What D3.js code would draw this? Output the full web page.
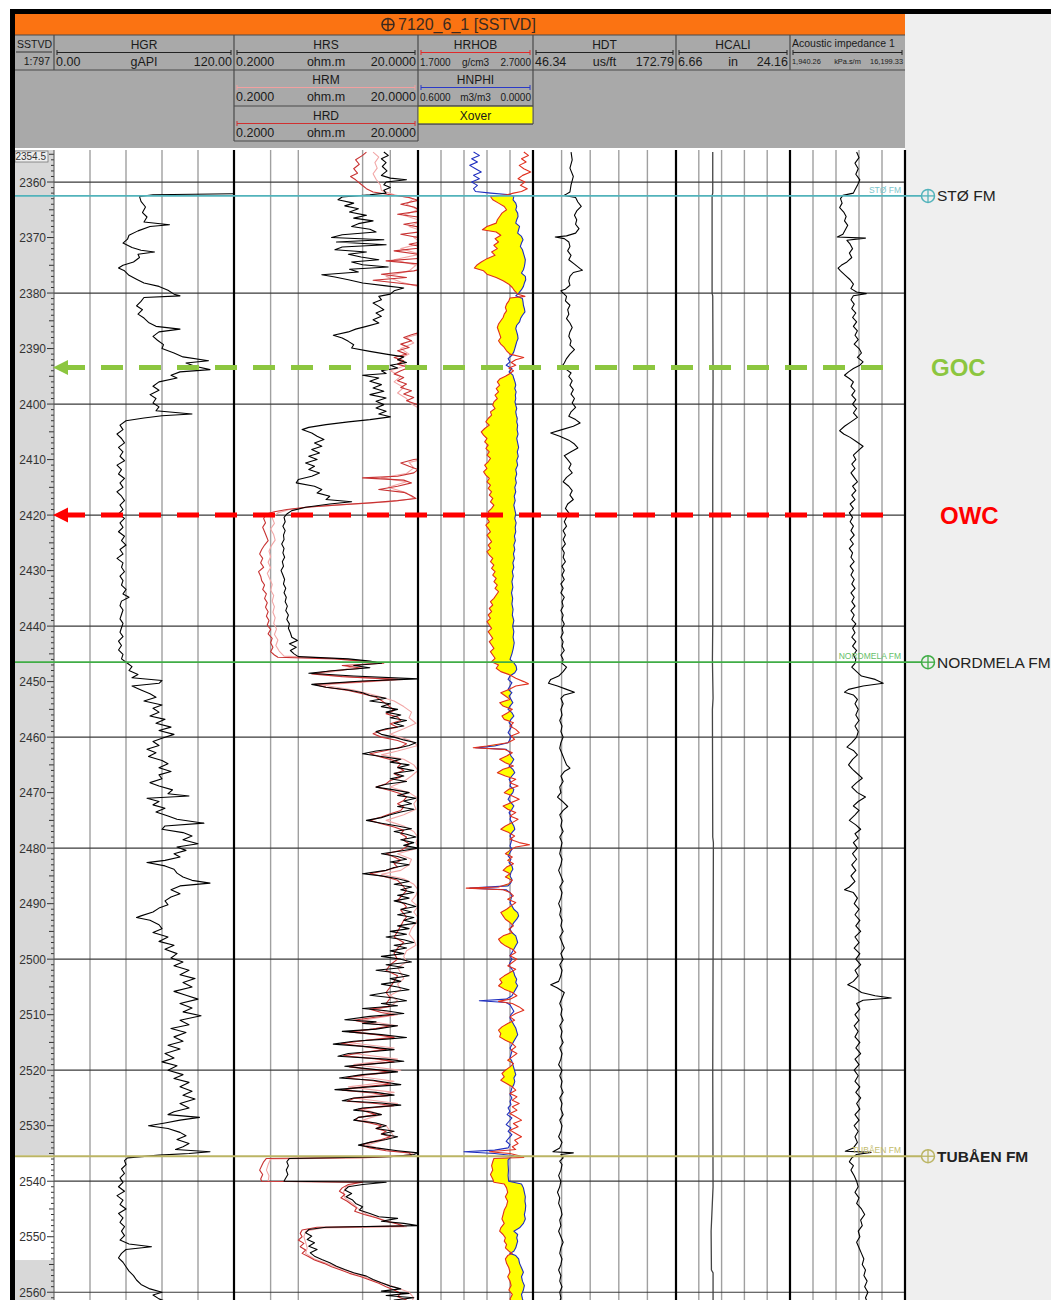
<!DOCTYPE html>
<html><head><meta charset="utf-8">
<script src="https://cdn.jsdelivr.net/npm/d3@7"></script>
<style>
body{margin:0;background:#fff}
svg{display:block}
text{font-family:"Liberation Sans",Arial,Helvetica,sans-serif}
</style>
</head><body>
<svg id="chart" width="1051" height="1300"></svg>
<script>
// ---------- Well 7120_6_1 log data: [depth SSTVD (m), value] ----------
const wellName = "7120_6_1 [SSTVD]";
const depthTop = 2354.5, depthBase = 2561.4;

const HGR = [[2362.1,120],[2362.3,66],[2362.6,57],[2363.5,58],[2364.5,61],[2365.5,59],[2366.3,62],[2367.2,60],[2367.7,77],[2368.0,64],[2368.8,56],[2369.6,50],[2370.3,49],[2371.0,46],[2371.8,52],[2372.3,58],[2372.6,67],[2373.0,56],[2373.6,57],[2374.4,53],[2375.0,46],[2375.5,43],[2376.0,47],[2376.8,50],[2377.5,55],[2378.2,60],[2378.8,70],[2379.5,76],[2380.2,80],[2380.5,84],[2380.8,60],[2381.5,58],[2382.3,55],[2383.0,59],[2383.8,56],[2384.5,60],[2385.3,63],[2386.0,68],[2386.5,84],[2387.0,70],[2387.8,66],[2388.5,69],[2389.3,73],[2390.0,72],[2390.8,80],[2391.5,86],[2392.2,103],[2392.6,88],[2393.2,94],[2393.8,104],[2394.2,84],[2394.8,78],[2395.3,82],[2396.0,70],[2396.8,66],[2397.5,70],[2398.3,64],[2399.0,68],[2399.8,66],[2400.5,70],[2401.2,68],[2401.8,92],[2402.1,72],[2402.5,60],[2403.0,48],
[2403.8,44],[2404.6,46],[2405.4,42],[2406.2,45],[2407.0,47],[2407.8,43],[2408.6,46],[2409.4,44],[2410.2,47],[2411.0,42],[2411.8,45],[2412.6,43],[2413.4,47],[2414.2,44],[2415.0,46],[2415.8,42],[2416.6,45],[2417.4,47],[2418.2,44],[2419.0,46],[2419.8,43],[2420.6,47],[2421.4,44],[2422.2,46],[2423.0,43],[2423.8,47],[2424.6,45],[2425.4,48],[2426.2,44],[2427.0,46],[2427.8,42],[2428.6,46],[2429.4,45],[2430.2,47],[2431.0,44],[2431.8,46],[2432.6,45],[2433.4,48],[2434.2,46],[2434.8,50],[2435.5,45],[2436.3,44],[2437.1,46],[2437.9,45],[2438.7,44],[2439.5,46],[2440.3,45],[2441.1,44],[2441.9,46],[2442.7,43],[2443.5,45],[2444.3,43],[2445.1,46],[2445.9,45],
[2446.7,49],[2447.3,52],[2448.0,50],[2448.7,56],[2449.3,52],[2449.8,72],[2450.3,70],[2450.8,52],[2451.5,58],[2452.2,64],[2452.8,68],[2453.5,60],[2454.2,72],[2454.8,66],[2455.5,70],[2456.2,64],[2456.8,74],[2457.5,68],[2458.2,78],[2458.8,70],[2459.5,80],[2460.2,72],[2460.8,66],[2461.5,70],[2462.2,62],[2462.8,68],[2463.5,63],[2464.2,72],[2464.8,76],[2465.5,70],[2466.2,78],[2466.8,70],[2467.5,72],[2468.2,64],[2468.8,70],[2469.5,79],[2470.2,76],[2470.6,90],[2471.0,62],[2471.6,70],[2472.2,66],[2472.8,74],[2473.5,68],[2474.2,76],[2474.8,82],[2475.5,100],[2476.0,74],[2476.6,72],[2477.2,86],[2477.8,92],[2478.5,86],[2479.2,96],[2479.8,82],[2480.4,88],[2481.0,80],[2481.6,84],[2482.2,74],[2482.6,62],[2483.2,74],[2483.8,80],[2484.5,82],[2485.2,86],[2485.8,92],[2486.3,104],[2486.8,84],[2487.5,78],[2488.2,84],[2488.8,78],[2489.5,74],[2490.2,76],[2490.8,70],[2491.5,66],[2492.2,58],[2492.5,55],[2493.0,64],[2493.8,70],
[2494.5,72],[2495.2,66],[2496.0,76],[2496.8,70],[2497.5,80],[2498.2,74],[2499.0,82],[2499.8,78],[2500.5,86],[2501.2,80],[2502.0,90],[2502.8,84],[2503.5,94],[2504.2,86],[2505.0,92],[2505.8,80],[2506.5,88],[2507.2,96],[2508.0,84],[2508.8,92],[2509.5,86],[2510.2,98],[2511.0,84],[2511.8,90],[2512.5,78],[2513.2,88],[2514.0,80],[2514.8,86],[2515.5,76],[2516.2,84],[2517.0,74],[2517.8,80],[2518.5,72],[2519.2,82],[2520.0,76],[2520.8,86],[2521.5,80],[2522.2,90],[2523.0,84],[2523.8,92],[2524.5,86],[2525.2,94],[2526.0,84],[2526.8,90],[2527.5,80],[2528.0,76],[2528.5,97],[2529.0,84],[2529.5,74],[2530.0,63],[2530.5,76],[2531.2,84],[2531.8,88],[2532.5,82],[2533.2,90],[2533.8,86],[2534.3,81],[2534.7,104],[2535.0,90],[2535.3,70],[2535.8,49],
[2536.3,47],[2537.0,48],[2537.8,45],[2538.6,47],[2539.4,44],[2540.2,46],[2541.0,43],[2541.8,47],[2542.6,42],[2543.4,46],[2544.2,44],[2545.0,48],[2545.8,43],[2546.6,46],[2547.4,44],[2548.2,47],[2549.0,45],[2549.8,47],[2550.6,44],[2551.3,50],[2551.8,65],[2552.3,48],[2553.0,45],[2553.8,43],[2554.6,46],[2555.4,48],[2556.2,50],[2557.0,53],[2557.8,55],[2558.6,58],[2559.4,64],[2560.0,72],[2560.5,66],[2561.2,70],[2561.6,74]];

const HRS = [[2354.6,8.5],[2355.2,9.5],[2355.8,8.0],[2356.5,9.0],[2357.2,8.2],[2358.0,9.2],[2358.8,8.0],[2359.3,10],[2359.6,15],[2360.0,9],[2360.5,8.5],[2361.0,10],[2361.5,8.5],[2362.0,9],[2362.3,6],[2362.7,3.0],[2363.2,2.7],[2363.8,4.0],[2364.3,3.2],[2364.8,4.5],[2365.4,3.6],[2366.0,5.5],[2366.5,4.0],[2367.0,6.5],[2367.5,4.5],[2368.0,3.8],[2368.5,6.0],[2369.0,7.0],[2369.5,3.0],[2370.0,2.3],[2370.4,8.5],[2370.8,2.6],[2371.3,9],[2371.7,3.0],[2372.2,2.5],[2372.6,5.5],[2373.0,3.5],[2373.5,4.8],[2374.0,7.5],[2374.4,3.8],[2374.9,5],[2375.3,9.5],[2375.7,3.6],[2376.2,4.5],[2376.7,1.8],[2377.1,2.5],[2377.6,3.5],[2378.2,5],[2378.7,9],[2379.1,14],[2379.6,11],[2380.2,10],[2380.6,7.5],[2381.2,8],[2381.8,6.5],[2382.4,7.5],[2383.0,8.5],[2383.6,7],[2384.2,8],[2384.8,6.5],[2385.4,7.5],[2386.0,5.5],[2386.5,4.2],[2387.0,3.5],[2387.6,2.4],[2388.1,3.0],[2388.7,3.5],[2389.3,4],[2389.9,3.8],[2390.5,6],[2391.0,9],[2391.5,14],[2392.0,12],[2392.5,15],[2393.0,10],[2393.5,12],[2394.0,8],[2394.5,9],[2394.8,5],[2395.3,7.5],[2395.9,6],[2396.5,8],[2397.1,6.5],[2397.7,8.5],[2398.3,6],[2398.9,9],[2399.5,7],[2400.1,8.5],[2400.7,7],[2401.3,9],[2401.8,7.5],[2402.3,10],[2402.8,6],[2403.2,3.5],[2403.7,2.0],[2404.2,1.3],[2404.6,1.1],[2405.2,1.4],[2405.8,1.6],[2406.4,1.9],[2407.0,1.5],[2407.6,1.8],[2408.2,1.4],[2408.8,1.7],[2409.4,1.3],[2410.0,1.6],[2410.6,1.2],[2411.2,1.5],[2411.8,1.3],[2412.4,1.7],[2413.0,1.4],[2413.6,1.0],[2414.2,0.95],[2414.8,1.5],[2415.4,1.8],[2416.0,1.6],[2416.6,2.2],[2417.2,2.0],[2417.6,3.8],[2418.0,2.2],[2418.6,1.2],[2419.2,0.85],[2419.8,0.75],[2420.4,0.7],[2421.2,0.72],[2422.0,0.68],[2422.8,0.72],[2423.6,0.69],[2424.4,0.7],[2425.2,0.66],[2426.0,0.7],[2426.8,0.68],[2427.6,0.71],[2428.4,0.67],[2429.2,0.69],[2430.0,0.65],[2430.8,0.68],[2431.6,0.71],[2432.4,0.69],[2433.2,0.73],[2434.0,0.7],[2434.8,0.74],[2435.6,0.72],[2436.4,0.76],[2437.2,0.73],[2438.0,0.78],[2438.8,0.75],[2439.6,0.8],[2440.4,0.78],[2441.2,0.82],[2442.0,0.85],[2442.6,0.98],[2443.2,0.8],[2443.8,0.95],[2444.4,0.82],[2445.0,0.9],[2445.5,1.0],[2445.9,3.5],[2446.3,6],[2446.7,8],[2447.1,4],[2447.5,6],[2448.0,2.5],[2448.5,1.3],[2449.0,4],[2449.5,20],[2449.9,5],[2450.5,1.4],[2451.0,2],[2451.5,3.5],[2452.0,5],[2452.5,6],[2453.0,9],[2453.5,6],[2454.0,10],[2454.5,8],[2455.0,12],[2455.5,9],[2456.0,13],[2456.5,10],[2457.0,15],[2457.5,11],[2458.0,14],[2458.5,9],[2459.0,7],[2459.5,8],[2460.0,11],[2460.5,14],[2461.0,19],[2461.5,16],[2462.0,12],[2462.5,7],[2463.0,5],[2463.5,8],[2464.0,13],[2464.5,10],[2465.0,16],[2465.5,12],[2466.0,18],[2466.5,11],[2467.0,14],[2467.5,10],[2468.0,15],[2468.5,9],[2469.0,7],[2469.5,11],[2470.0,16],[2470.5,12],[2471.0,19],[2471.5,14],[2472.0,17],[2472.5,12],[2473.0,18],[2473.5,13],[2474.0,10],[2474.5,8],[2475.0,5.5],[2475.5,8],[2476.0,12],[2476.5,17],[2477.0,11],[2477.5,15],[2478.0,19],[2478.5,13],[2479.0,18],[2479.5,14],[2480.0,20],[2480.5,13],[2481.0,8],[2481.5,12],[2482.0,15],[2482.5,10],[2483.0,16],[2483.5,11],[2484.0,9],[2484.6,5],[2485.0,8],[2485.5,12],[2486.0,16],[2486.5,11],[2487.0,17],[2487.5,13],[2488.0,18],[2488.5,12],[2489.0,16],[2489.5,11],[2490.0,15],[2490.5,19],[2491.0,13],[2491.5,17],[2492.0,12],[2492.5,18],[2493.0,14],[2493.5,19],[2494.0,12],[2494.5,16],[2495.0,10],[2495.5,15],[2496.0,9],[2496.5,14],[2497.0,18],[2497.5,11],[2498.0,15],[2498.5,10],[2499.0,14],[2499.5,8],[2500.0,13],[2500.5,17],[2501.0,9],[2501.5,14],[2502.0,7],[2502.5,12],[2503.0,16],[2503.5,10],[2504.0,13],[2504.5,8],[2505.0,12],[2505.5,16],[2506.0,9],[2506.5,6],[2507.0,11],[2507.5,15],[2508.0,8],[2508.4,12],[2508.9,5],[2509.3,9],[2509.8,14],[2510.3,6],[2510.9,3.2],[2511.3,7],[2511.6,5],[2512.0,12],[2512.6,7],[2513.0,3],[2513.6,8],[2514.1,15],[2514.4,9],[2514.8,4],[2515.3,2.4],[2515.8,6],[2516.3,11],[2516.6,7],[2517.0,3.5],[2517.5,2.7],[2518.0,9],[2518.4,14],[2518.9,6],[2519.3,3.2],[2519.9,7],[2520.3,12],[2520.8,5],[2521.4,2.8],[2521.8,6.5],[2522.3,10],[2522.6,13],[2523.1,5],[2523.5,2.5],[2524.0,7],[2524.5,11],[2525.0,4],[2525.5,3],[2525.9,8],[2526.3,13],[2526.8,5],[2527.2,4],[2527.5,6],[2528.0,8],[2528.5,4.5],[2529.0,4],[2529.5,7],[2530.0,9],[2530.5,7],[2531.0,11],[2531.5,8],[2532.0,12],[2532.5,9],[2533.0,6],[2533.5,4.5],[2534.0,7],[2534.5,12],[2534.9,20],[2535.2,18],[2535.6,10],[2535.9,0.8],[2536.5,0.75],[2537.2,0.78],[2538.0,0.74],[2538.8,0.77],[2539.6,0.72],[2540.0,0.7],[2540.2,9],[2540.6,5],[2541.0,3.5],[2541.6,3.2],[2542.2,3.8],[2542.8,3.3],[2543.4,3.9],[2544.0,4.2],[2544.6,5],[2545.2,4.6],[2545.8,6],[2546.4,7.5],[2546.7,12],[2547.2,8],[2547.6,14],[2548.0,20],[2548.3,2.0],[2548.7,1.3],[2549.3,1.2],[2549.9,1.4],[2550.5,1.25],[2551.1,1.5],[2551.7,1.3],[2552.3,1.6],[2552.9,1.35],[2553.5,1.5],[2554.1,1.8],[2554.7,2.2],[2555.3,2.6],[2555.9,3.2],[2556.5,4],[2557.1,5.5],[2557.7,6.5],[2558.3,8],[2558.9,10],[2559.4,13],[2559.8,8],[2560.2,16],[2560.6,9],[2561.0,18],[2561.4,11],[2561.7,15]];

const HRM = [[2354.6,6.5],[2355.5,7.5],[2356.5,6.8],[2357.5,7.2],[2358.5,6.5],[2359.5,7],[2360.5,7.8],[2361.5,8],[2362.3,11],[2363.0,18],[2364.0,15],[2365.0,20],[2366.0,14],[2367.0,22],[2368.0,16],[2369.0,24],[2370.0,18],[2371.0,22],[2372.0,13],[2373.0,21],[2374.0,11],[2375.0,19],[2376.0,16],[2377.0,9],[2378.0,13],[2379.0,22],[2380.0,30],[2387.0,25],[2388.0,15],[2389.0,18],[2390.0,13],[2391.0,16],[2392.0,12],[2393.0,15],[2394.0,10],[2395.0,13],[2396.0,11],[2397.0,14],[2398.0,12],[2399.0,15],[2400.0,17],[2401.0,22],[2410.0,22],[2410.5,16],[2411.5,18],[2412.5,15],[2413.3,8],[2414.0,15],[2415.0,9.5],[2416.0,15],[2417.0,18],[2417.6,10],[2418.0,4],[2418.5,1.5],[2419.0,0.8],[2419.6,0.6],[2420.5,0.52],[2421.5,0.55],[2422.5,0.5],[2423.5,0.54],[2424.5,0.56],[2425.5,0.51],[2426.5,0.48],[2427.5,0.5],[2428.5,0.47],[2429.5,0.5],[2430.5,0.46],[2431.5,0.49],[2432.5,0.52],[2433.5,0.5],[2434.5,0.54],[2435.5,0.52],[2436.5,0.55],[2437.5,0.53],[2438.5,0.56],[2439.5,0.54],[2440.5,0.58],[2441.5,0.55],[2442.5,0.6],[2443.5,0.57],[2444.5,0.62],[2445.4,0.7],[2445.9,3],[2446.5,7],[2447.2,4],[2448.0,3],[2448.6,1.6],[2449.2,4],[2449.6,14],[2450.1,5],[2450.6,1.8],[2451.5,4],[2452.5,7],[2453.5,11],[2454.5,14],[2455.5,17],[2456.5,16],[2457.5,19],[2458.5,14],[2459.5,10],[2460.5,16],[2461.5,20],[2462.5,12],[2463.2,8],[2464.0,14],[2465.0,18],[2466.0,20],[2467.0,17],[2468.0,14],[2469.0,10],[2470.0,16],[2471.0,20],[2472.0,18],[2473.0,19],[2474.0,14],[2475.0,9],[2476.0,14],[2477.0,18],[2478.0,20],[2479.0,19],[2480.0,20],[2481.0,12],[2482.0,17],[2483.0,16],[2484.0,13],[2484.7,8],[2485.5,14],[2486.5,18],[2487.5,20],[2488.5,19],[2489.5,17],[2490.5,20],[2491.5,18],[2492.5,20],[2493.5,19],[2494.5,17],[2495.5,16],[2496.5,18],[2497.5,19],[2498.5,15],[2499.5,14],[2500.5,15],[2501.5,12],[2502.5,13],[2503.5,14],[2504.5,12],[2505.5,13],[2506.5,10],[2507.5,12],[2508.5,10],[2509.0,7],[2510.0,12],[2511.0,5],[2512.0,12],[2513.0,4],[2514.0,11],[2515.0,3.5],[2516.0,11],[2517.0,4],[2518.0,12],[2519.0,4],[2520.0,13],[2521.0,4],[2522.0,11],[2523.0,3.5],[2524.0,11],[2525.0,4],[2526.0,12],[2527.0,5],[2528.0,8],[2529.0,5],[2530.0,9],[2531.0,10],[2532.0,11],[2533.0,7],[2533.5,5.5],[2534.5,10],[2534.9,18],[2535.4,16],[2535.8,5],[2536.0,0.5],[2537.0,0.47],[2538.0,0.45],[2539.0,0.48],[2540.0,0.47],[2540.2,4.5],[2541.0,3.3],[2542.0,3.1],[2543.0,3.2],[2544.0,3.9],[2545.0,4.5],[2546.0,5.6],[2547.0,8.5],[2547.8,13],[2548.2,15],[2548.4,1.8],[2549.0,1.2],[2550.0,1.15],[2551.0,1.2],[2552.0,1.25],[2553.0,1.2],[2554.0,1.5],[2555.0,2.2],[2556.0,3.2],[2557.0,4.8],[2558.0,7],[2559.0,11],[2560.0,16],[2561.0,18],[2561.7,17]];

const HRD = [[2354.6,5.5],[2355.2,5],[2356.0,4.2],[2356.8,4.6],[2357.6,4.0],[2358.4,4.4],[2359.0,3.7],[2359.6,4.2],[2360.4,4.8],[2361.2,5.5],[2361.8,6.5],[2362.3,10],[2362.8,16],[2363.3,20],[2364.0,13],[2364.5,18],[2365.2,22],[2365.8,12],[2366.3,20],[2367.0,24],[2367.6,14],[2368.2,22],[2368.8,26],[2369.4,13],[2370.0,20],[2370.6,25],[2371.2,16],[2371.8,24],[2372.4,11],[2373.0,20],[2373.6,28],[2374.2,9],[2374.8,22],[2375.4,26],[2376.0,18],[2376.6,8],[2377.2,15],[2377.7,6.5],[2378.2,12],[2378.8,25],[2379.5,30],[2380.3,40],[2386.0,30],[2387.0,22],[2387.5,17],[2388.0,14],[2388.6,17],[2389.2,13],[2389.8,16],[2390.4,12],[2391.0,15],[2391.6,11],[2392.2,14],[2392.8,12],[2393.4,16],[2394.0,13],[2394.6,11],[2395.2,14],[2395.8,12],[2396.4,15],[2397.0,13],[2397.6,17],[2398.2,14],[2398.8,18],[2399.4,15],[2400.0,19],[2400.6,22],[2401.5,30],[2409.5,30],[2410.0,18],[2410.6,13],[2411.2,16],[2411.8,20],[2412.4,18],[2413.0,12],[2413.3,5],[2413.7,14],[2414.2,17],[2414.8,12],[2415.4,7.5],[2415.9,14],[2416.5,17],[2417.0,19],[2417.4,12],[2417.8,6],[2418.2,2.5],[2418.6,1.2],[2419.0,0.75],[2419.4,0.55],[2419.8,0.45],[2420.6,0.42],[2421.4,0.44],[2422.2,0.41],[2423.0,0.43],[2423.8,0.45],[2424.6,0.47],[2425.4,0.43],[2426.2,0.4],[2427.0,0.38],[2427.8,0.41],[2428.6,0.39],[2429.4,0.42],[2430.2,0.37],[2431.0,0.39],[2431.8,0.4],[2432.6,0.43],[2433.4,0.41],[2434.2,0.45],[2435.0,0.43],[2435.8,0.46],[2436.6,0.44],[2437.4,0.47],[2438.2,0.45],[2439.0,0.48],[2439.8,0.46],[2440.6,0.5],[2441.4,0.47],[2442.2,0.52],[2443.0,0.5],[2443.8,0.53],[2444.6,0.5],[2445.2,0.55],[2445.6,0.6],[2445.9,2.5],[2446.3,5],[2446.7,8.5],[2447.1,3],[2447.6,5],[2448.1,2.2],[2448.6,1.4],[2449.1,3],[2449.6,12],[2450.0,5],[2450.5,1.5],[2451.0,2],[2451.6,3.5],[2452.2,5],[2452.8,7],[2453.4,8],[2454.0,9],[2454.6,10],[2455.2,11],[2455.8,9],[2456.4,12],[2457.0,13],[2457.6,10],[2458.2,12],[2458.8,8],[2459.4,6.5],[2460.0,8],[2460.6,12],[2461.2,15],[2461.8,13],[2462.4,9],[2463.0,6],[2463.6,8],[2464.2,11],[2464.8,13],[2465.4,12],[2466.0,14],[2466.6,11],[2467.2,13],[2467.8,10],[2468.4,9],[2469.0,7],[2469.6,10],[2470.2,13],[2470.8,15],[2471.4,14],[2472.0,12],[2472.6,14],[2473.2,13],[2473.8,10],[2474.4,8],[2475.0,6],[2475.6,8],[2476.2,11],[2476.8,14],[2477.4,13],[2478.0,15],[2478.6,14],[2479.2,16],[2479.8,15],[2480.4,13],[2481.0,9],[2481.6,11],[2482.2,13],[2482.8,11],[2483.4,12],[2484.0,9],[2484.6,6],[2485.2,9],[2485.8,12],[2486.4,13],[2487.0,14],[2487.6,15],[2488.2,14],[2488.8,13],[2489.4,12],[2490.0,14],[2490.6,15],[2491.2,13],[2491.8,14],[2492.4,15],[2493.0,14],[2494.0,13],[2495.0,12],[2496.0,11],[2497.0,14],[2498.0,12],[2499.0,11],[2500.0,12],[2501.0,10],[2502.0,9],[2503.0,12],[2504.0,11],[2505.0,10],[2506.0,9],[2507.0,10],[2508.0,9],[2508.5,10],[2509.0,6],[2509.6,8],[2510.0,11],[2510.5,6.5],[2511.0,4],[2511.6,6],[2512.0,10],[2512.6,6.5],[2513.1,3.6],[2513.6,7],[2514.1,11],[2514.6,5.5],[2515.2,2.9],[2515.8,5.5],[2516.3,9],[2516.8,5],[2517.4,3.1],[2518.0,7.5],[2518.5,11],[2519.0,5],[2519.4,3.6],[2520.0,7],[2520.4,10],[2520.9,5],[2521.4,3.3],[2521.9,6.5],[2522.5,10],[2523.1,4.5],[2523.6,3],[2524.1,6.5],[2524.6,9.5],[2525.1,4],[2525.6,3.4],[2526.0,7],[2526.4,11],[2527.0,4.5],[2527.5,5.5],[2528.0,7],[2528.5,4.5],[2529.0,4.2],[2529.5,6],[2530.0,8],[2530.5,7],[2531.0,9],[2531.5,8],[2532.0,10],[2532.5,8],[2533.0,6],[2533.5,4.8],[2534.0,6],[2534.5,9],[2534.9,16],[2535.3,17],[2535.7,6],[2535.9,0.45],[2536.5,0.42],[2537.2,0.4],[2538.0,0.38],[2538.8,0.41],[2539.6,0.39],[2540.0,0.4],[2540.2,5],[2540.6,3.5],[2541.2,3],[2541.8,2.8],[2542.4,3.2],[2543.0,2.9],[2543.6,3.4],[2544.2,3.8],[2544.8,4.3],[2545.4,4.1],[2546.0,5.2],[2546.6,7],[2547.2,9],[2547.7,12],[2548.1,14],[2548.3,1.6],[2548.8,1.1],[2549.4,1.05],[2550.0,1.1],[2550.6,1.0],[2551.2,1.15],[2551.8,1.05],[2552.4,1.2],[2553.0,1.1],[2553.6,1.3],[2554.2,1.5],[2554.8,1.9],[2555.4,2.3],[2556.0,2.9],[2556.6,3.6],[2557.2,4.8],[2557.8,6],[2558.4,7.5],[2559.0,9],[2559.6,11],[2560.2,13],[2560.8,12],[2561.4,15],[2561.7,14]];

const HRHOB = [[2354.6,2.62],[2355.2,2.66],[2355.8,2.60],[2356.4,2.64],[2357.0,2.58],[2357.6,2.62],[2358.2,2.68],[2358.8,2.61],[2359.4,2.57],[2360.0,2.63],[2360.6,2.59],[2361.2,2.65],[2361.7,2.60],[2362.0,2.53],[2362.3,2.47],[2362.6,2.33],[2363.2,2.35],[2363.8,2.40],[2364.4,2.45],[2365.0,2.47],[2365.6,2.43],[2366.2,2.41],[2366.8,2.39],[2367.4,2.38],[2368.0,2.30],[2368.6,2.26],[2369.0,2.38],[2369.6,2.42],[2370.2,2.37],[2370.8,2.40],[2371.4,2.36],[2372.0,2.39],[2372.6,2.34],[2373.2,2.37],[2373.8,2.30],[2374.4,2.25],[2375.0,2.21],[2375.5,2.19],[2376.0,2.27],[2376.6,2.30],[2377.2,2.38],[2377.8,2.44],[2378.4,2.49],[2379.0,2.52],[2379.6,2.54],[2380.2,2.57],[2380.6,2.63],[2380.9,2.50],[2381.4,2.49],[2382.0,2.47],[2382.6,2.46],[2383.2,2.47],[2383.8,2.45],[2384.4,2.44],[2385.0,2.42],[2385.6,2.40],[2386.2,2.39],[2386.8,2.40],[2387.4,2.41],[2388.0,2.42],[2388.6,2.40],[2389.2,2.42],[2389.8,2.45],[2390.4,2.47],[2391.0,2.50],[2391.6,2.62],[2392.0,2.55],[2392.5,2.51],[2393.0,2.55],[2393.5,2.49],[2394.0,2.53],[2394.5,2.50],[2395.0,2.46],[2395.5,2.41],[2396.0,2.39],[2396.6,2.41],[2397.2,2.38],[2397.8,2.40],[2398.4,2.37],[2399.0,2.39],[2399.6,2.36],[2400.2,2.35],[2400.8,2.37],[2401.4,2.33],[2402.0,2.34],[2402.6,2.31],[2403.2,2.29],[2403.8,2.32],[2404.4,2.28],[2405.0,2.25],[2405.6,2.27],[2406.2,2.30],[2406.8,2.28],[2407.4,2.31],[2408.0,2.29],[2408.6,2.32],[2409.2,2.30],[2409.8,2.33],[2410.4,2.31],[2411.0,2.28],[2411.6,2.30],[2412.2,2.27],[2412.8,2.29],[2413.4,2.32],[2414.0,2.30],[2414.6,2.33],[2415.2,2.31],[2415.8,2.34],[2416.4,2.32],[2417.0,2.35],[2417.6,2.33],[2418.2,2.36],[2418.8,2.34],[2419.4,2.31],[2420.0,2.33],[2420.6,2.30],[2421.2,2.32],[2421.8,2.29],[2422.4,2.31],[2423.0,2.33],[2423.6,2.30],[2424.2,2.32],[2424.8,2.34],[2425.4,2.31],[2426.0,2.33],[2426.6,2.30],[2427.2,2.32],[2427.8,2.35],[2428.4,2.33],[2429.0,2.36],[2429.6,2.34],[2430.2,2.37],[2430.8,2.35],[2431.4,2.38],[2432.0,2.36],[2432.6,2.39],[2433.2,2.37],[2433.8,2.40],[2434.4,2.38],[2435.0,2.36],[2435.6,2.33],[2436.2,2.35],[2436.8,2.32],[2437.4,2.34],[2438.0,2.31],[2438.6,2.33],[2439.2,2.30],[2439.8,2.32],[2440.4,2.34],[2441.0,2.31],[2441.6,2.33],[2442.2,2.35],[2442.8,2.32],[2443.4,2.34],[2444.0,2.36],[2444.6,2.33],[2445.2,2.35],[2445.8,2.37],[2446.4,2.34],[2447.0,2.40],[2447.6,2.38],[2448.2,2.42],[2448.8,2.50],[2449.4,2.55],[2450.0,2.62],[2450.4,2.66],[2450.8,2.55],[2451.4,2.49],[2452.0,2.42],[2452.6,2.46],[2453.2,2.50],[2453.8,2.41],[2454.4,2.44],[2455.0,2.52],[2455.6,2.48],[2456.2,2.43],[2456.8,2.45],[2457.4,2.53],[2458.0,2.50],[2458.6,2.55],[2459.2,2.58],[2459.8,2.51],[2460.4,2.54],[2461.0,2.48],[2461.6,2.30],[2461.9,2.18],[2462.2,2.45],[2462.8,2.52],[2463.4,2.47],[2464.0,2.41],[2464.6,2.46],[2465.2,2.53],[2465.8,2.44],[2466.4,2.39],[2467.0,2.46],[2467.6,2.55],[2468.2,2.50],[2468.8,2.57],[2469.4,2.49],[2470.0,2.45],[2470.6,2.52],[2471.2,2.58],[2471.8,2.51],[2472.4,2.44],[2473.0,2.48],[2473.6,2.55],[2474.2,2.50],[2474.8,2.57],[2475.4,2.52],[2476.0,2.46],[2476.6,2.42],[2477.2,2.49],[2477.8,2.54],[2478.4,2.50],[2479.0,2.58],[2479.4,2.67],[2479.8,2.55],[2480.4,2.50],[2481.0,2.46],[2481.6,2.52],[2482.2,2.48],[2482.8,2.53],[2483.4,2.47],[2484.0,2.44],[2484.6,2.50],[2485.2,2.46],[2485.8,2.52],[2486.4,2.49],[2487.0,2.40],[2487.2,2.12],[2487.5,2.44],[2488.0,2.50],[2488.6,2.53],[2489.2,2.48],[2489.8,2.55],[2490.4,2.51],[2491.0,2.47],[2491.6,2.42],[2492.2,2.44],[2492.8,2.46],[2493.4,2.50],[2494.0,2.53],[2494.6,2.49],[2495.2,2.52],[2495.8,2.44],[2496.4,2.40],[2497.0,2.42],[2497.6,2.46],[2498.2,2.52],[2498.8,2.55],[2499.4,2.50],[2500.0,2.56],[2500.6,2.52],[2501.2,2.48],[2501.8,2.55],[2502.4,2.50],[2503.0,2.45],[2503.6,2.41],[2504.2,2.43],[2504.8,2.40],[2505.4,2.45],[2506.0,2.52],[2506.6,2.56],[2507.2,2.50],[2507.6,2.40],[2508.0,2.52],[2508.6,2.58],[2509.2,2.62],[2509.8,2.55],[2510.4,2.50],[2511.0,2.54],[2511.6,2.48],[2512.2,2.43],[2512.8,2.40],[2513.4,2.42],[2514.0,2.41],[2514.6,2.46],[2515.2,2.52],[2515.8,2.55],[2516.4,2.51],[2517.0,2.56],[2517.6,2.52],[2518.2,2.48],[2518.8,2.53],[2519.4,2.50],[2520.0,2.46],[2520.6,2.43],[2521.2,2.45],[2521.8,2.42],[2522.4,2.47],[2523.0,2.52],[2523.6,2.55],[2524.2,2.50],[2524.8,2.56],[2525.4,2.52],[2526.0,2.58],[2526.6,2.52],[2527.2,2.56],[2527.8,2.50],[2528.4,2.55],[2529.0,2.60],[2529.6,2.53],[2530.2,2.57],[2530.8,2.50],[2531.4,2.55],[2532.0,2.60],[2532.6,2.54],[2533.2,2.57],[2533.8,2.52],[2534.3,2.55],[2534.7,2.32],[2535.0,2.50],[2535.4,2.58],[2535.7,2.62],[2535.9,2.36],[2536.5,2.35],[2537.2,2.34],[2538.0,2.35],[2538.8,2.33],[2539.6,2.35],[2540.2,2.36],[2540.5,2.45],[2541.2,2.47],[2542.0,2.48],[2542.8,2.46],[2543.6,2.48],[2544.4,2.47],[2545.2,2.45],[2546.0,2.44],[2546.8,2.43],[2547.6,2.45],[2548.4,2.42],[2549.0,2.41],[2549.6,2.44],[2550.2,2.46],[2550.8,2.45],[2551.4,2.47],[2552.0,2.46],[2552.6,2.49],[2553.0,2.52],[2553.4,2.48],[2554.0,2.46],[2554.8,2.47],[2555.6,2.49],[2556.4,2.50],[2557.2,2.48],[2558.0,2.50],[2558.8,2.51],[2559.6,2.49],[2560.4,2.52],[2561.2,2.50],[2561.7,2.51]];

const HNPHI = [[2354.6,0.31],[2355.2,0.28],[2355.8,0.32],[2356.4,0.29],[2357.0,0.33],[2357.6,0.30],[2358.2,0.27],[2358.8,0.31],[2359.4,0.28],[2360.0,0.32],[2360.6,0.29],[2361.2,0.31],[2361.7,0.30],[2362.0,0.22],[2362.3,0.12],[2362.6,0.10],[2363.2,0.104],[2363.8,0.09],[2364.4,0.085],[2365.0,0.09],[2365.6,0.08],[2366.2,0.078],[2366.8,0.085],[2367.4,0.09],[2368.0,0.07],[2368.6,0.075],[2369.2,0.08],[2369.8,0.06],[2370.4,0.052],[2371.0,0.06],[2371.6,0.066],[2372.2,0.055],[2372.8,0.05],[2373.4,0.045],[2374.0,0.04],[2374.6,0.042],[2375.2,0.045],[2375.8,0.05],[2376.4,0.06],[2377.0,0.04],[2377.6,0.038],[2378.2,0.045],[2378.8,0.05],[2379.4,0.06],[2380.0,0.075],[2380.5,0.09],[2381.0,0.055],[2381.6,0.052],[2382.2,0.05],[2382.8,0.045],[2383.4,0.042],[2384.0,0.055],[2384.6,0.065],[2385.2,0.07],[2385.8,0.085],[2386.4,0.09],[2387.0,0.085],[2387.6,0.08],[2388.2,0.078],[2388.8,0.085],[2389.4,0.09],[2390.0,0.095],[2390.6,0.1],[2391.2,0.11],[2391.8,0.13],[2392.4,0.12],[2393.0,0.14],[2393.6,0.11],[2394.2,0.125],[2394.8,0.105],[2395.4,0.1],[2396.0,0.094],[2396.6,0.09],[2397.2,0.095],[2397.8,0.088],[2398.4,0.092],[2399.0,0.09],[2399.6,0.094],[2400.2,0.09],[2400.8,0.085],[2401.4,0.09],[2402.0,0.087],[2402.6,0.082],[2403.2,0.085],[2403.8,0.08],[2404.6,0.083],[2405.4,0.078],[2406.2,0.085],[2407.0,0.08],[2407.8,0.075],[2408.6,0.082],[2409.4,0.077],[2410.2,0.085],[2411.0,0.08],[2411.8,0.09],[2412.6,0.085],[2413.4,0.092],[2414.2,0.087],[2415.0,0.095],[2415.8,0.09],[2416.6,0.098],[2417.4,0.093],[2418.2,0.1],[2419.0,0.095],[2419.8,0.09],[2420.6,0.095],[2421.4,0.088],[2422.2,0.093],[2423.0,0.09],[2423.8,0.097],[2424.6,0.092],[2425.4,0.1],[2426.2,0.095],[2427.0,0.102],[2427.8,0.097],[2428.6,0.105],[2429.4,0.1],[2430.2,0.108],[2431.0,0.103],[2432.0,0.11],[2433.0,0.105],[2434.0,0.112],[2435.0,0.106],[2436.0,0.11],[2437.0,0.104],[2438.0,0.108],[2439.0,0.1],[2440.0,0.106],[2441.0,0.1],[2442.0,0.104],[2443.0,0.098],[2444.0,0.103],[2445.0,0.11],[2446.0,0.12],[2446.6,0.1],[2447.2,0.088],[2447.8,0.085],[2448.4,0.095],[2449.0,0.12],[2449.6,0.13],[2450.2,0.11],[2450.8,0.12],[2451.4,0.13],[2452.0,0.11],[2452.6,0.125],[2453.2,0.115],[2453.8,0.105],[2454.4,0.12],[2455.0,0.13],[2455.6,0.11],[2456.2,0.1],[2456.8,0.115],[2457.4,0.125],[2458.0,0.11],[2458.6,0.12],[2459.2,0.13],[2459.8,0.115],[2460.4,0.12],[2461.0,0.13],[2461.6,0.2],[2461.9,0.3],[2462.2,0.14],[2462.8,0.12],[2463.4,0.115],[2464.0,0.1],[2464.6,0.11],[2465.2,0.125],[2465.8,0.105],[2466.4,0.095],[2467.0,0.11],[2467.6,0.125],[2468.2,0.115],[2468.8,0.12],[2469.4,0.1],[2470.0,0.105],[2470.6,0.12],[2471.2,0.13],[2471.8,0.115],[2472.4,0.1],[2473.0,0.11],[2473.6,0.125],[2474.2,0.115],[2474.8,0.12],[2475.4,0.11],[2476.0,0.1],[2476.6,0.095],[2477.2,0.11],[2477.8,0.12],[2478.4,0.11],[2479.0,0.115],[2479.6,0.12],[2480.2,0.11],[2480.8,0.12],[2481.4,0.13],[2482.0,0.115],[2482.6,0.125],[2483.2,0.11],[2483.8,0.105],[2484.4,0.115],[2485.0,0.12],[2485.6,0.11],[2486.2,0.115],[2486.8,0.13],[2487.2,0.33],[2487.5,0.14],[2488.0,0.12],[2488.6,0.11],[2489.2,0.115],[2489.8,0.12],[2490.4,0.11],[2491.0,0.1],[2491.6,0.08],[2492.2,0.075],[2492.8,0.085],[2493.4,0.1],[2494.0,0.11],[2494.6,0.12],[2495.2,0.11],[2495.8,0.09],[2496.4,0.085],[2497.0,0.08],[2497.6,0.09],[2498.2,0.1],[2498.8,0.11],[2499.4,0.12],[2500.0,0.11],[2500.6,0.12],[2501.2,0.125],[2501.8,0.11],[2502.4,0.1],[2503.0,0.095],[2503.6,0.085],[2504.2,0.09],[2504.8,0.08],[2505.4,0.09],[2506.0,0.1],[2506.6,0.11],[2507.2,0.14],[2507.5,0.28],[2507.8,0.14],[2508.2,0.12],[2508.8,0.11],[2509.4,0.1],[2510.0,0.115],[2510.6,0.12],[2511.2,0.11],[2511.8,0.1],[2512.4,0.09],[2513.0,0.085],[2513.6,0.08],[2514.2,0.09],[2514.8,0.1],[2515.4,0.11],[2516.0,0.12],[2516.6,0.11],[2517.2,0.115],[2517.8,0.12],[2518.4,0.11],[2519.0,0.105],[2519.6,0.1],[2520.2,0.095],[2520.8,0.09],[2521.4,0.1],[2522.0,0.095],[2522.6,0.1],[2523.2,0.11],[2523.8,0.115],[2524.4,0.12],[2525.0,0.11],[2525.6,0.12],[2526.2,0.115],[2526.8,0.13],[2527.4,0.12],[2528.0,0.135],[2528.6,0.11],[2529.2,0.125],[2529.8,0.14],[2530.4,0.115],[2531.0,0.13],[2531.6,0.11],[2532.2,0.125],[2532.8,0.14],[2533.4,0.12],[2534.0,0.13],[2534.4,0.2],[2534.7,0.36],[2535.0,0.2],[2535.4,0.1],[2535.8,0.12],[2536.2,0.13],[2537.0,0.13],[2538.0,0.128],[2539.0,0.13],[2540.0,0.127],[2540.5,0.06],[2541.2,0.05],[2542.0,0.045],[2542.8,0.04],[2543.6,0.042],[2544.4,0.038],[2545.2,0.04],[2546.0,0.045],[2546.8,0.04],[2547.6,0.05],[2548.4,0.07],[2549.0,0.1],[2549.6,0.08],[2550.2,0.085],[2550.8,0.08],[2551.4,0.085],[2552.0,0.09],[2552.6,0.1],[2553.0,0.12],[2553.4,0.09],[2554.0,0.075],[2554.8,0.07],[2555.6,0.06],[2556.4,0.05],[2557.2,0.06],[2558.0,0.055],[2558.8,0.045],[2559.6,0.05],[2560.4,0.06],[2561.2,0.055],[2561.7,0.05]];

const HDT = [[2354.6,80],[2356.0,81],[2357.5,79],[2359.0,82],[2360.5,80],[2361.8,79],[2362.4,74],[2362.8,84],[2363.6,86],[2364.4,89],[2365.2,85],[2366.0,83],[2366.8,85],[2367.6,84],[2368.4,87],[2369.2,84],[2369.7,76],[2369.9,66],[2370.2,74],[2370.8,78],[2371.6,79],[2372.4,77],[2373.2,80],[2374.0,78],[2374.8,83],[2375.6,88],[2375.9,90],[2376.3,82],[2377.0,79],[2377.8,78],[2378.6,79],[2379.3,75],[2379.6,71],[2380.0,73],[2380.6,76],[2381.4,75],[2382.2,79],[2383.0,77],[2383.8,78],[2384.6,76],[2385.4,79],[2386.2,81],[2387.0,79],[2387.8,78],[2388.6,80],[2389.4,79],[2390.2,83],[2391.0,79],[2391.8,76],[2392.6,74],[2393.2,72],[2393.8,76],[2394.4,80],[2395.0,78],[2395.8,81],[2396.6,79],[2397.4,82],[2398.2,80],[2399.0,83],[2399.8,81],[2400.6,84],[2401.4,80],[2402.2,78],[2402.8,84],[2403.4,88],[2404.0,82],[2404.6,72],[2405.2,62],[2405.8,70],[2406.5,78],[2407.2,83],[2407.9,86],[2408.6,80],[2409.3,74],[2410.0,77],[2410.8,80],[2411.6,78],[2412.4,81],[2413.2,76],[2414.0,73],[2414.8,78],[2415.6,81],[2416.4,79],[2417.2,82],[2418.0,77],[2418.8,75],[2419.6,78],[2420.4,76],[2421.2,74],[2422.0,76],[2422.8,73],[2423.6,75],[2424.4,73],[2425.2,75],[2426.0,72],[2426.8,74],[2427.6,73],[2428.4,75],[2429.2,72],[2430.0,74],[2430.8,72],[2431.6,74],[2432.4,71],[2433.2,73],[2434.0,71],[2434.8,74],[2435.6,72],[2436.4,73],[2437.2,71],[2438.0,73],[2438.8,72],[2439.6,74],[2440.4,72],[2441.2,73],[2442.0,71],[2442.8,73],[2443.6,72],[2444.4,74],[2445.2,71],[2446.0,73],[2446.7,72],[2447.4,76],[2448.2,73],[2449.0,69],[2449.6,62],[2450.3,60],[2450.8,68],[2451.4,76],[2451.9,83],[2452.4,74],[2453.0,71],[2454.0,73],[2455.0,71],[2456.0,72],[2457.0,70],[2458.0,72],[2459.0,71],[2460.0,73],[2461.0,71],[2462.0,70],[2463.0,72],[2464.0,74],[2465.0,76],[2465.6,79],[2466.2,74],[2467.0,71],[2468.0,73],[2469.0,70],[2470.0,71],[2470.8,68],[2471.5,72],[2472.5,77],[2473.2,73],[2474.0,70],[2475.0,72],[2476.0,71],[2477.0,73],[2478.0,70],[2479.0,72],[2480.0,71],[2481.0,70],[2482.0,72],[2483.0,71],[2484.0,69],[2485.0,71],[2486.0,73],[2487.0,70],[2488.0,72],[2489.0,71],[2490.0,69],[2491.0,71],[2492.0,70],[2493.0,72],[2494.0,71],[2495.0,73],[2496.0,70],[2497.0,72],[2498.0,74],[2499.0,71],[2500.0,73],[2501.0,70],[2502.0,72],[2503.0,71],[2504.0,69],[2504.6,62],[2505.2,68],[2506.0,74],[2507.0,72],[2508.0,70],[2509.0,72],[2510.0,71],[2511.0,73],[2512.0,70],[2513.0,72],[2514.0,71],[2515.0,73],[2516.0,70],[2517.0,72],[2518.0,71],[2519.0,69],[2520.0,72],[2521.0,70],[2522.0,72],[2523.0,71],[2524.0,73],[2525.0,70],[2526.0,72],[2527.0,71],[2528.0,73],[2529.0,70],[2530.0,72],[2531.0,71],[2532.0,69],[2533.0,72],[2534.0,70],[2534.7,64],[2534.9,82],[2535.2,71],[2535.8,73],[2536.4,70],[2537.0,72],[2538.0,71],[2539.0,69],[2540.0,71],[2541.0,70],[2542.0,68],[2543.0,70],[2544.0,69],[2545.0,71],[2546.0,72],[2547.0,70],[2548.0,71],[2549.0,69],[2550.0,71],[2551.0,73],[2552.0,71],[2553.0,70],[2554.0,72],[2555.0,71],[2556.0,69],[2557.0,71],[2558.0,70],[2559.0,72],[2560.0,70],[2561.0,71],[2561.7,70]];

const HCALI = [[2354.6,12.3],[2362.0,12.3],[2362.5,12.2],[2380.0,12.2],[2380.5,12.3],[2395.0,12.35],[2410.0,12.3],[2440.0,12.3],[2446.0,12.25],[2453.0,12.35],[2455.0,12.25],[2478.0,12.3],[2479.0,12.4],[2500.0,12.35],[2520.0,12.3],[2541.0,12.35],[2549.0,12.05],[2556.0,12.1],[2556.5,12.35],[2561.7,12.35]];

const AI = [[2354.6,10200],[2355.6,10500],[2356.6,10000],[2357.6,10400],[2358.6,10100],[2359.6,10600],[2360.6,10300],[2361.4,10000],[2362.0,9800],[2362.4,8500],[2363.0,8200],[2363.8,8400],[2364.6,8100],[2365.4,8600],[2366.2,8900],[2367.0,8700],[2367.8,9100],[2368.6,8800],[2369.4,8500],[2369.9,7800],[2370.1,11300],[2370.5,9000],[2371.2,9400],[2372.0,9700],[2372.8,9300],[2373.6,9600],[2374.4,9000],[2375.0,8300],[2375.5,7900],[2376.0,8200],[2376.8,8800],[2377.6,9400],[2378.4,9800],[2379.2,9500],[2379.8,10200],[2380.1,11400],[2380.5,9800],[2381.2,9500],[2382.0,9900],[2382.8,9600],[2383.6,10100],[2384.4,9700],[2385.2,10200],[2386.0,9800],[2386.8,10300],[2387.6,10000],[2388.4,10400],[2389.2,9900],[2390.0,10500],[2390.8,10800],[2391.6,10300],[2392.4,11000],[2393.0,10600],[2393.6,9800],[2394.2,9200],[2394.8,8700],[2395.4,9300],[2396.0,9800],[2396.8,9500],[2397.6,10000],[2398.4,9600],[2399.2,10100],[2400.0,9700],[2400.8,10200],[2401.6,9800],[2402.4,10300],[2403.2,9500],[2404.0,8700],[2404.8,8100],[2405.4,8600],[2406.0,9400],[2406.8,10200],[2407.6,11000],[2408.4,10400],[2409.2,9800],[2410.0,10100],[2410.8,9600],[2411.6,10000],[2412.4,9500],[2413.2,9900],[2414.0,10300],[2414.8,9700],[2415.6,10100],[2416.4,9600],[2417.2,10000],[2418.0,9400],[2418.8,9800],[2419.6,9300],[2420.4,9700],[2421.2,9400],[2422.0,9800],[2422.8,9500],[2423.6,9900],[2424.4,9400],[2425.2,9800],[2426.0,9300],[2426.8,9700],[2427.6,9500],[2428.4,9900],[2429.2,9400],[2430.0,9800],[2430.8,9500],[2431.6,9900],[2432.4,9600],[2433.2,10000],[2434.0,9500],[2434.8,9900],[2435.6,9600],[2436.4,10000],[2437.2,9500],[2438.0,9900],[2438.8,9600],[2439.6,10100],[2440.4,9700],[2441.2,10000],[2442.0,9600],[2442.8,10100],[2443.6,9700],[2444.4,10200],[2445.2,9800],[2446.0,10100],[2446.7,10000],[2447.4,9600],[2448.2,10200],[2449.0,10800],[2449.6,12500],[2450.3,13500],[2450.8,11000],[2451.4,9200],[2451.9,8700],[2452.4,9800],[2453.2,10300],[2454.0,10000],[2455.0,10400],[2456.0,10100],[2457.0,10500],[2458.0,10000],[2459.0,10400],[2460.0,10200],[2461.0,9600],[2461.8,9000],[2462.4,9800],[2463.2,10300],[2464.0,9700],[2465.0,9200],[2465.8,9700],[2466.6,10300],[2467.4,10900],[2468.2,10200],[2469.0,9600],[2470.0,10300],[2470.8,11300],[2471.6,10400],[2472.4,9800],[2473.2,10500],[2474.0,10000],[2475.0,9300],[2475.8,10100],[2476.6,10700],[2477.4,10000],[2478.2,10400],[2479.0,9800],[2480.0,10300],[2481.0,9700],[2482.0,10200],[2483.0,9600],[2484.0,10100],[2485.0,9500],[2486.0,10000],[2487.0,9300],[2487.5,8700],[2488.0,9800],[2489.0,10300],[2490.0,9900],[2491.0,10500],[2492.0,10000],[2493.0,10600],[2494.0,10100],[2495.0,10700],[2496.0,10000],[2497.0,10500],[2498.0,9900],[2499.0,10600],[2500.0,10100],[2501.0,10700],[2502.0,10000],[2503.0,10400],[2504.0,9800],[2504.6,9100],[2505.2,10000],[2506.0,10800],[2506.6,12500],[2507.0,14500],[2507.4,11000],[2508.0,10200],[2509.0,10600],[2510.0,10000],[2511.0,10500],[2512.0,9900],[2513.0,10400],[2514.0,10000],[2515.0,10600],[2516.0,10100],[2517.0,10700],[2518.0,10000],[2519.0,10500],[2520.0,9900],[2521.0,10400],[2522.0,10000],[2523.0,10600],[2524.0,10100],[2525.0,10700],[2526.0,10200],[2527.0,10600],[2528.0,10000],[2529.0,10500],[2530.0,9900],[2531.0,10400],[2532.0,10000],[2533.0,10300],[2534.0,9800],[2534.6,8800],[2534.8,12000],[2535.2,10200],[2535.8,9600],[2536.5,9300],[2537.2,9800],[2538.0,9500],[2539.0,9900],[2540.0,10200],[2541.0,10400],[2542.0,10000],[2543.0,10500],[2544.0,10200],[2545.0,10800],[2546.0,11200],[2547.0,10700],[2548.0,10900],[2549.0,10400],[2550.0,10600],[2551.0,10200],[2552.0,10500],[2553.0,10800],[2554.0,11100],[2555.0,10900],[2556.0,11300],[2557.0,11100],[2558.0,11500],[2559.0,11200],[2560.0,11600],[2561.0,11300],[2561.7,11500]];

// Formation tops and fluid contacts (m SSTVD)
const topNames  = ["STØ FM", "NORDMELA FM", "TUBÅEN FM"];
const topDepths = [2362.5, 2446.5, 2535.5];
const contactNames  = ["GOC", "OWC"];
const contactDepths = [2393.4, 2420.0];

// Header curve descriptions
const curveNames = ["HGR","HRS","HRM","HRD","HRHOB","HNPHI","HDT","HCALI","Acoustic impedance 1"];
const curveUnits = ["gAPI","ohm.m","ohm.m","ohm.m","g/cm3","m3/m3","us/ft","in","kPa.s/m"];
const curveMins  = ["0.00","0.2000","0.2000","0.2000","1.7000","0.6000","46.34","6.66","1,940.26"];
const curveMaxs  = ["120.00","20.0000","20.0000","20.0000","2.7000","0.0000","172.79","24.16","16,199.33"];

// ---------- layout ----------
const W = 1051, H = 1300;
const trackTop = 150;
const svg = d3.select("#chart");

const y = d3.scaleLinear().domain([depthTop, depthBase]).range([151.5, 1300]);

const xGR   = d3.scaleLinear().domain([0, 120]).range([54, 234]);
const xRes  = d3.scaleLog().domain([0.2, 20]).range([234, 418]);
const xRhob = d3.scaleLinear().domain([1.7, 2.7]).range([418, 533]);
const xNphi = d3.scaleLinear().domain([0.6, 0]).range([418, 533]);
const xDT   = d3.scaleLinear().domain([46.34, 172.79]).range([533, 676]);
const xCal  = d3.scaleLinear().domain([6.66, 24.16]).range([676, 790]);
const xAI   = d3.scaleLinear().domain([1940.26, 16199.33]).range([790, 905]);

// background pieces
svg.append("rect").attr("x",0).attr("y",0).attr("width",W).attr("height",H).attr("fill","#fff");
svg.append("rect").attr("x",905).attr("y",14).attr("width",W-905).attr("height",H-14).attr("fill","#efefef");

// depth column
svg.append("rect").attr("x",15).attr("y",trackTop).attr("width",39).attr("height",H-trackTop).attr("fill","#d8d8d8");
svg.append("rect").attr("x",15).attr("y",y(2535.3)).attr("width",39).attr("height",y(2554.2)-y(2535.3)).attr("fill","#fff");

const defs = svg.append("defs");
function trackClip(id, x0, x1){
  defs.append("clipPath").attr("id",id).append("rect")
    .attr("x",x0).attr("y",trackTop).attr("width",x1-x0).attr("height",H-trackTop);
}
trackClip("cGR",54,234); trackClip("cRes",234,418); trackClip("cDen",418,533);
trackClip("cDT",533,676); trackClip("cCal",676,790); trackClip("cAI",790,905);

// vertical grid inside tracks
const gridG = svg.append("g");
const grGrid = [24,48,72,96], resGrid = [0.5,1,5,10], rhobGrid = [1.9,2.1,2.3,2.5];
const dtGrid = [71.63,96.92,122.21,147.5], calGrid = [10.16,13.66,17.16,20.66], aiGrid = [4792,7644,10496,13348];
const vx = [].concat(grGrid.map(xGR), resGrid.map(xRes), rhobGrid.map(xRhob), dtGrid.map(xDT), calGrid.map(xCal), aiGrid.map(xAI));
gridG.selectAll("line.v").data(vx).join("line")
  .attr("x1",d=>d).attr("x2",d=>d).attr("y1",trackTop).attr("y2",H)
  .attr("stroke","#a0a0a0").attr("stroke-width",1.4);

// horizontal grid every 20 m
const hDepths = d3.range(2360, 2561, 20);
gridG.selectAll("line.h").data(hDepths).join("line")
  .attr("x1",54).attr("x2",905).attr("y1",d=>y(d)).attr("y2",d=>y(d))
  .attr("stroke","#3a3a3a").attr("stroke-width",1.2);

// depth ticks and labels
const depthG = svg.append("g");
depthG.selectAll("line.mt").data(d3.range(2355, 2562, 1)).join("line")
  .attr("x1",d=> d%10===0 ? 47 : (d%5===0 ? 49 : 51)).attr("x2",54)
  .attr("y1",d=>y(d)).attr("y2",d=>y(d)).attr("stroke","#333").attr("stroke-width",1);
depthG.selectAll("text.dl").data(d3.range(2360, 2561, 10)).join("text")
  .attr("x",46).attr("y",d=>y(d)+4.5).attr("text-anchor","end")
  .attr("font-size",12).attr("fill","#333").text(d=>d);
depthG.append("rect").attr("x",15).attr("y",151).attr("width",33).attr("height",11).attr("fill","#eee").attr("stroke","#777").attr("stroke-width",0.8);
depthG.append("text").attr("x",46).attr("y",160).attr("text-anchor","end").attr("font-size",10).attr("fill","#333").text(depthTop.toFixed(1));

// ---------- curves ----------
const curveG = svg.append("g");
function drawCurve(data, xs, clip, color, width){
  curveG.append("path").attr("clip-path",`url(#${clip})`)
    .attr("d", d3.line().x(d=>xs(d[1])).y(d=>y(d[0]))(data))
    .attr("fill","none").attr("stroke",color).attr("stroke-width",width).attr("stroke-linejoin","round");
}

// gas crossover fill: right of density curve and left of neutron curve
defs.append("clipPath").attr("id","cNphi").append("path")
  .attr("d", d3.area().y(d=>y(d[0])).x0(418).x1(d=>xNphi(d[1]))(HNPHI));
const denFill = curveG.append("g").attr("clip-path","url(#cDen)");
denFill.append("path").attr("clip-path","url(#cNphi)")
  .attr("d", d3.area().y(d=>y(d[0])).x0(d=>xRhob(d[1])).x1(533)(HRHOB))
  .attr("fill","#ffff00");

drawCurve(HGR, xGR, "cGR", "#000", 1.1);
drawCurve(HRM, xRes, "cRes", "#f2a6a6", 1.1);
drawCurve(HRD, xRes, "cRes", "#c83232", 1.1);
drawCurve(HRS, xRes, "cRes", "#000", 1.1);
drawCurve(HNPHI, xNphi, "cDen", "#1f2fbf", 1.1);
drawCurve(HRHOB, xRhob, "cDen", "#e0301e", 1.1);
drawCurve(HDT, xDT, "cDT", "#000", 1.1);
drawCurve(HCALI, xCal, "cCal", "#444", 1.3);
drawCurve(AI, xAI, "cAI", "#000", 1.1);

// track separators
const sepG = svg.append("g");
sepG.append("line").attr("x1",54).attr("x2",54).attr("y1",trackTop).attr("y2",H).attr("stroke","#555").attr("stroke-width",1);
sepG.selectAll("line.s").data([234,418,533,676,790,905]).join("line")
  .attr("x1",d=>d).attr("x2",d=>d).attr("y1",trackTop).attr("y2",H)
  .attr("stroke","#000").attr("stroke-width",2.2);

// ---------- formation tops ----------
const topColors = ["#52b3bb","#40ad46","#bbb564"];
const topTextColors = ["#7cc5cc","#66c06a","#c2bb6a"];
const topsG = svg.append("g");
topNames.forEach((name,i)=>{
  const ty = y(topDepths[i]);
  topsG.append("line").attr("x1",15).attr("x2",921).attr("y1",ty).attr("y2",ty)
    .attr("stroke",topColors[i]).attr("stroke-width",1.8);
  topsG.append("text").attr("x",901).attr("y",ty-3).attr("text-anchor","end")
    .attr("font-size",8.5).attr("fill",topTextColors[i]).text(name);
  topsG.append("circle").attr("cx",928).attr("cy",ty).attr("r",6.5)
    .attr("fill","none").attr("stroke",topColors[i]).attr("stroke-width",1.5);
  topsG.append("line").attr("x1",921.5).attr("x2",934.5).attr("y1",ty).attr("y2",ty).attr("stroke",topColors[i]).attr("stroke-width",1.3);
  topsG.append("line").attr("x1",928).attr("x2",928).attr("y1",ty-6.5).attr("y2",ty+6.5).attr("stroke",topColors[i]).attr("stroke-width",1.3);
  topsG.append("text").attr("x",937).attr("y",ty+5.5).attr("font-size",15.5)
    .attr("font-weight", i===2 ? "bold" : "normal")
    .attr("fill","#222").text(name);
});

// ---------- fluid contacts ----------
const contactColors = ["#8cc63f","#ff0000"];
const contactLabelX = [931, 940];
const contG = svg.append("g");
contactNames.forEach((name,i)=>{
  const cy = y(contactDepths[i]);
  contG.append("line").attr("x1",63).attr("x2",886).attr("y1",cy).attr("y2",cy)
    .attr("stroke",contactColors[i]).attr("stroke-width",5).attr("stroke-dasharray","22 16");
  contG.append("path").attr("d",`M53,${cy} L68,${cy-7.5} L68,${cy+7.5} Z`).attr("fill",contactColors[i]);
  contG.append("text").attr("x",contactLabelX[i]).attr("y",cy+8.5)
    .attr("font-size",24).attr("font-weight","bold").attr("fill",contactColors[i])
    .attr("font-family","Carlito, 'Open Sans', 'Liberation Sans', sans-serif").text(name);
});

// ---------- header ----------
const hd = svg.append("g");
hd.append("rect").attr("x",15).attr("y",14).attr("width",890).attr("height",21).attr("fill","#fb7312");
hd.append("rect").attr("x",15).attr("y",35).attr("width",890).attr("height",113).attr("fill","#a9a9a9");
// title with well symbol
hd.append("circle").attr("cx",388).attr("cy",24.5).attr("r",6).attr("fill","none").attr("stroke","#3a2a20").attr("stroke-width",1.5);
hd.append("line").attr("x1",382).attr("x2",394).attr("y1",24.5).attr("y2",24.5).attr("stroke","#3a2a20").attr("stroke-width",1.4);
hd.append("line").attr("x1",388).attr("x2",388).attr("y1",18.5).attr("y2",30.5).attr("stroke","#3a2a20").attr("stroke-width",1.4);
hd.append("text").attr("x",398).attr("y",30).attr("font-size",16).attr("fill","#3a2a20").text(wellName);

const border = "#4a4a4a";
function hline(x1,x2,yy){ hd.append("line").attr("x1",x1).attr("x2",x2).attr("y1",yy).attr("y2",yy).attr("stroke",border).attr("stroke-width",1.2); }
function vline(xx,y1,y2){ hd.append("line").attr("x1",xx).attr("x2",xx).attr("y1",y1).attr("y2",y2).attr("stroke",border).attr("stroke-width",1.2); }
hline(15,905,35); hline(15,905,70);
[54,234,418,533,676,790].forEach(xx=>vline(xx,35,70));
vline(234,70,141); vline(418,70,141); vline(533,70,124);
hline(234,533,106); hline(234,418,141); hline(418,533,124);

// SSTVD cell
hd.append("text").attr("x",17).attr("y",48).attr("font-size",10.5).attr("fill","#1a1a1a").text("SSTVD");
hd.append("line").attr("x1",16).attr("x2",52).attr("y1",52).attr("y2",52).attr("stroke","#333").attr("stroke-width",1);
hd.append("text").attr("x",50).attr("y",65).attr("text-anchor","end").attr("font-size",10.5).attr("fill","#1a1a1a").text("1:797");

// curve cells: [index, x0, x1, rowTop, lineColor, valueFont]
const cells = [
  [0,54,234,35,"#222",12.5],[1,234,418,35,"#222",12.5],[2,234,418,70,"#f2a0a0",12.5],[3,234,418,106,"#d03030",12.5],
  [4,418,533,35,"#e02a2a",10],[5,418,533,70,"#2a3ac8",10],[6,533,676,35,"#222",12.5],[7,676,790,35,"#222",12.5],[8,790,905,35,"#222",7.4]
];
cells.forEach(([i,x0,x1,top,lc,fs])=>{
  const mid = (x0+x1)/2;
  if(i===8){
    hd.append("text").attr("x",x0+2).attr("y",top+12).attr("font-size",10.5).attr("fill","#1a1a1a").text(curveNames[i]);
  } else {
    hd.append("text").attr("x",mid).attr("y",top+13.5).attr("text-anchor","middle").attr("font-size",12).attr("fill","#1a1a1a").text(curveNames[i]);
  }
  const ly = top+17.5;
  hd.append("line").attr("x1",x0+3).attr("x2",x1-3).attr("y1",ly).attr("y2",ly).attr("stroke",lc).attr("stroke-width",1.2);
  hd.append("line").attr("x1",x0+3).attr("x2",x0+3).attr("y1",ly-2.5).attr("y2",ly+2.5).attr("stroke",lc).attr("stroke-width",1);
  hd.append("line").attr("x1",x1-3).attr("x2",x1-3).attr("y1",ly-2.5).attr("y2",ly+2.5).attr("stroke",lc).attr("stroke-width",1);
  const vy = top + (fs<8 ? 29 : 31);
  hd.append("text").attr("x",x0+2).attr("y",vy).attr("font-size",fs).attr("fill","#1a1a1a").text(curveMins[i]);
  hd.append("text").attr("x",mid).attr("y",vy).attr("text-anchor","middle").attr("font-size",fs).attr("fill","#1a1a1a").text(curveUnits[i]);
  hd.append("text").attr("x",x1-2).attr("y",vy).attr("text-anchor","end").attr("font-size",fs).attr("fill","#1a1a1a").text(curveMaxs[i]);
});
// crossover legend cell
hd.append("rect").attr("x",418.6).attr("y",106.6).attr("width",113.8).attr("height",17).attr("fill","#ffff00");
hd.append("text").attr("x",475.5).attr("y",120).attr("text-anchor","middle").attr("font-size",12).attr("fill","#1a1a1a").text("Xover");
hline(418,533,124); hline(418,533,106);

// outer frame
svg.append("rect").attr("x",10).attr("y",9).attr("width",W-10).attr("height",5).attr("fill","#000");
svg.append("rect").attr("x",10).attr("y",9).attr("width",5).attr("height",H-9).attr("fill","#000");
</script>
</body></html>
